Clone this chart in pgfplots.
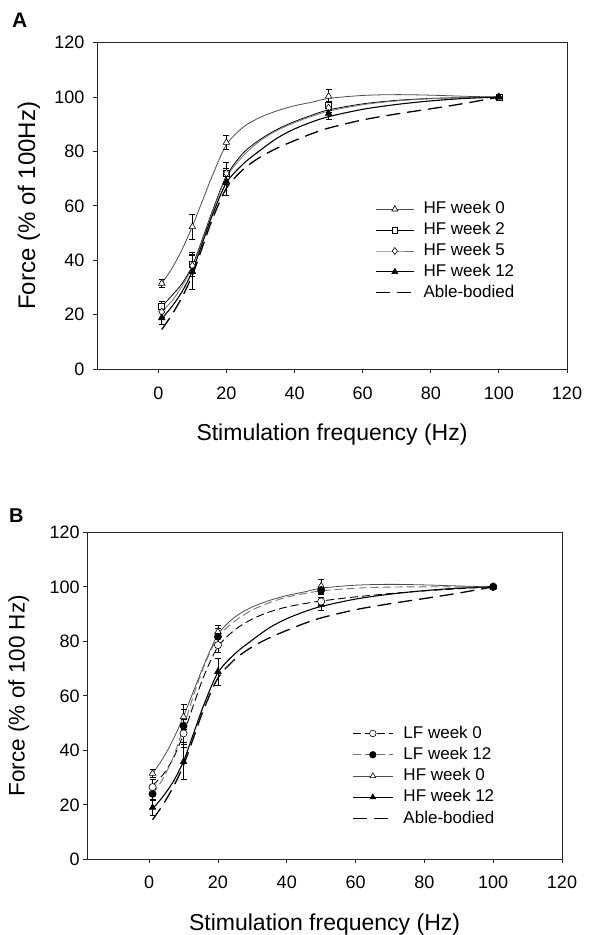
\documentclass[border=0pt]{standalone}
\usepackage{fontspec}
\setmainfont{Liberation Sans}
\usepackage{pgfplots}
\pgfplotsset{compat=1.18}

\pgfplotsset{
  panel/.style={
    scale only axis,
    xmin=-18, xmax=120, ymin=0, ymax=120,
    xtick={0,20,...,120}, ytick={0,20,...,120},
    tick pos=left, tick align=outside,
    major tick length=4pt,
    axis line style={line width=0.8pt, black!85},
    every tick/.style={black!85, line width=0.8pt},
    tick label style={font=\fontsize{18}{21}\selectfont},
    /pgf/number format/assume math mode=true,
    legend cell align=left,
    legend image code/.code={\draw[mark repeat=2,mark phase=2,##1] plot coordinates {(0pt,0pt) (19pt,0pt) (38pt,0pt)};},
  },
  errb/.style={error bars/.cd, y dir=both, y explicit,
    error bar style={black, line width=0.6pt},
    error mark options={rotate=90, mark size=3pt, black, line width=0.6pt}},
  cHFa/.style={black!70, line width=0.8pt},
  cHFb/.style={black, line width=0.8pt},
  cHFc/.style={black!55, line width=0.8pt},
  cHFd/.style={black, line width=1.1pt},
  cAB/.style={black, line width=1.3pt, dash pattern=on 14pt off 7pt},
  cLFa/.style={black, line width=0.9pt, dash pattern=on 8pt off 4pt},
  cLFb/.style={black!55, line width=0.9pt, dash pattern=on 8pt off 4pt},
}

\begin{document}
\begin{tikzpicture}
\path[use as bounding box] (0,0) rectangle (590pt,-935pt);

\node[anchor=north west, inner sep=0pt, font=\bfseries\fontsize{21}{24}\selectfont] at (12pt,-13pt) {A};
\node[anchor=north west, inner sep=0pt, font=\bfseries\fontsize{20}{24}\selectfont] at (9pt,-509pt) {B};

% ---------------- Panel A ----------------
\begin{axis}[panel,
  at={(97pt,-369pt)}, anchor=south west, width=470pt, height=326.3pt,
  xticklabel style={yshift=-10pt},
  yticklabel style={xshift=-5pt},
  xlabel={Stimulation frequency (Hz)},
  ylabel={Force (\% of 100Hz)},
  xlabel style={font=\fontsize{23}{26}\selectfont, at={(axis description cs:0.5,0)}, anchor=base, yshift=-71.7pt},
  ylabel style={font=\fontsize{24}{27}\selectfont, at={(axis description cs:-0.1447,0.5)}, anchor=center},
  legend style={draw=none, fill=none, font=\fontsize{17}{20}\selectfont,
    at={(0.5915,0.5164)}, anchor=north west, inner sep=0pt,
    row sep=3.9pt, /tikz/column sep=8pt,
    nodes={inner sep=1pt, text height=12pt, text depth=3pt}},
]
% fitted curves
\addplot[cHFa, smooth, forget plot] coordinates {(1,31.5) (4,37) (7,44) (10,52.5) (13,62) (16,71.5) (20,82.5) (25,89) (30,92.6) (35,95) (40,96.8) (45,98.1) (50,99.5) (60,100.6) (70,100.9) (80,100.7) (90,100.3) (100,100)};
\addplot[cHFb, smooth, forget plot] coordinates {(1,23) (4,27) (7,31.5) (10,38) (13,48) (16,58.5) (20,71) (25,79.5) (30,84.5) (35,88.2) (40,91) (45,93.3) (50,95.3) (60,97.5) (70,98.8) (80,99.5) (90,99.8) (100,100)};
\addplot[cHFc, smooth, forget plot] coordinates {(1,21) (4,25) (7,30.5) (10,37.5) (13,47.5) (16,58) (20,70.5) (25,78.5) (30,84) (35,87.8) (40,90.6) (45,92.9) (50,94.8) (60,97.2) (70,98.6) (80,99.4) (90,99.8) (100,100)};
\addplot[cHFd, smooth, forget plot] coordinates {(1,18.5) (4,23) (7,28.5) (10,36) (13,46.5) (16,57) (20,68.5) (25,75.5) (30,80.5) (35,85) (40,88.3) (45,90.8) (50,92.8) (60,95.5) (70,97.3) (80,98.6) (90,99.5) (100,100)};
\addplot[cAB, smooth, forget plot] coordinates {(1,14.5) (4,20) (7,26.5) (10,34.5) (13,45) (16,55.5) (20,66.5) (25,73.5) (30,78) (35,81.3) (40,84) (45,86.5) (50,88.6) (60,91.6) (70,93.8) (80,95.7) (90,97.7) (100,100)};
% data points
\addplot[only marks, forget plot, mark=triangle*, mark size=3.8pt, mark options={fill=white, draw=black, line width=0.6pt}, errb] table[x=x, y=y, y error=e] {
x y e
1 31.5 1.5
10 52.3 4.5
20 83.3 2.5
50 100.3 2.7
100 100 0
};
\addplot[only marks, forget plot, mark=square*, mark size=3pt, mark options={fill=white, draw=black, line width=0.6pt}, errb] table[x=x, y=y, y error=e] {
x y e
1 23 2
10 38.5 4.5
20 72 4
50 96.8 1.5
100 100 0
};
\addplot[only marks, forget plot, mark=diamond*, mark size=3.8pt, mark options={fill=white, draw=black, line width=0.6pt}, errb] table[x=x, y=y, y error=e] {
x y e
1 21 2
10 38 4
20 72 4
50 96 1.5
100 100 0
};
\addplot[only marks, forget plot, mark=triangle*, mark size=3.8pt, mark options={fill=black, draw=black, line width=0.6pt}, errb] table[x=x, y=y, y error=e] {
x y e
1 18.8 2.5
10 35.8 6.5
20 68.9 5
50 94 2
100 100 0
};
% legend
\addlegendimage{cHFa, mark=triangle*, mark options={fill=white, draw=black, solid, line width=0.6pt, mark size=3.5pt}}
\addlegendentry{HF week 0}
\addlegendimage{cHFb, mark=square*, mark options={fill=white, draw=black, solid, line width=0.6pt, mark size=2.8pt}}
\addlegendentry{HF week 2}
\addlegendimage{cHFc, mark=diamond*, mark options={fill=white, draw=black, solid, line width=0.6pt, mark size=3.5pt}}
\addlegendentry{HF week 5}
\addlegendimage{cHFd, mark=triangle*, mark options={fill=black, draw=black, solid, line width=0.6pt, mark size=3.5pt}}
\addlegendentry{HF week 12}
\addlegendimage{cAB}
\addlegendentry{Able-bodied}
\end{axis}

% ---------------- Panel B ----------------
\begin{axis}[panel,
  at={(87.2pt,-859.3pt)}, anchor=south west, width=474.8pt, height=327pt,
  xticklabel style={yshift=-8.7pt},
  xlabel={Stimulation frequency (Hz)},
  ylabel={Force (\% of 100 Hz)},
  xlabel style={font=\fontsize{23}{26}\selectfont, at={(axis description cs:0.5,0)}, anchor=base, yshift=-70.7pt},
  ylabel style={font=\fontsize{22.5}{26}\selectfont, at={(axis description cs:-0.1441,0.5)}, anchor=center},
  legend image code/.code={\draw[mark repeat=2,mark phase=2,#1] plot coordinates {(0pt,0pt) (20pt,0pt) (40pt,0pt)};},
  legend style={draw=none, fill=none, font=\fontsize{17}{20}\selectfont,
    at={(0.5577,0.4113)}, anchor=north west, inner sep=0pt,
    row sep=4.25pt, /tikz/column sep=9pt,
    nodes={inner sep=1pt, text height=12pt, text depth=3pt}},
]
% fitted curves
\addplot[cHFa, smooth, forget plot] coordinates {(1,31.5) (4,37) (7,44) (10,52.5) (13,62) (16,71.5) (20,82.5) (25,89) (30,92.6) (35,95) (40,96.8) (45,98.1) (50,99.5) (60,100.6) (70,100.9) (80,100.7) (90,100.3) (100,100)};
\addplot[cHFd, smooth, forget plot] coordinates {(1,18.5) (4,23) (7,28.5) (10,36) (13,46.5) (16,57) (20,68.5) (25,75.5) (30,80.5) (35,85) (40,88.3) (45,90.8) (50,92.8) (60,95.5) (70,97.3) (80,98.6) (90,99.5) (100,100)};
\addplot[cLFa, smooth, forget plot] coordinates {(1,27) (4,31) (7,37) (10,46) (13,57) (16,67.5) (20,78) (25,84.3) (30,88.2) (35,90.8) (40,92.6) (45,93.8) (50,94.8) (60,96.3) (70,97.5) (80,98.5) (90,99.3) (100,100)};
\addplot[cLFb, smooth, forget plot] coordinates {(1,24) (4,29.5) (7,37.5) (10,48.5) (13,60.5) (16,71) (20,81.5) (25,87.5) (30,91.5) (35,94.2) (40,96.2) (45,97.5) (50,98.5) (60,99.5) (70,99.9) (80,100) (90,100) (100,100)};
\addplot[cAB, smooth, forget plot] coordinates {(1,14.5) (4,20) (7,26.5) (10,34.5) (13,45) (16,55.5) (20,66.5) (25,73.5) (30,78) (35,81.3) (40,84) (45,86.5) (50,88.6) (60,91.6) (70,93.8) (80,95.7) (90,97.7) (100,100)};
% data points
\addplot[only marks, forget plot, mark=triangle*, mark size=3.8pt, mark options={fill=white, draw=black, line width=0.6pt}, errb] table[x=x, y=y, y error=e] {
x y e
1 31.5 1.5
10 52.3 4.5
20 83.5 2.5
50 100.3 2.5
100 100 0
};
\addplot[only marks, forget plot, mark=triangle*, mark size=3.8pt, mark options={fill=black, draw=black, line width=0.6pt}, errb] table[x=x, y=y, y error=e] {
x y e
1 19 3
10 35.8 6.5
20 68.9 5
50 93.5 2
100 100 0
};
\addplot[only marks, forget plot, mark=*, mark size=3.6pt, mark options={fill=white, draw=black, line width=0.6pt}, errb] table[x=x, y=y, y error=e] {
x y e
1 26.5 3
10 46.2 5
20 78.6 2.5
50 94.6 1.5
100 100 0
};
\addplot[only marks, forget plot, mark=*, mark size=3.6pt, mark options={fill=black, draw=black, line width=0.6pt}, errb] table[x=x, y=y, y error=e] {
x y e
1 24 2.5
10 49 6
20 81.7 3
50 98.8 1.5
100 100 0
};
% legend
\addlegendimage{cLFa, mark=*, mark options={fill=white, draw=black, solid, line width=0.6pt, mark size=3.3pt}}
\addlegendentry{LF week 0}
\addlegendimage{cLFb, mark=*, mark options={fill=black, draw=black, solid, line width=0.6pt, mark size=3.3pt}}
\addlegendentry{LF week 12}
\addlegendimage{cHFa, mark=triangle*, mark options={fill=white, draw=black, solid, line width=0.6pt, mark size=3.3pt}}
\addlegendentry{HF week 0}
\addlegendimage{cHFd, mark=triangle*, mark options={fill=black, draw=black, solid, line width=0.6pt, mark size=3.3pt}}
\addlegendentry{HF week 12}
\addlegendimage{cAB}
\addlegendentry{Able-bodied}
\end{axis}
\end{tikzpicture}
\end{document}
